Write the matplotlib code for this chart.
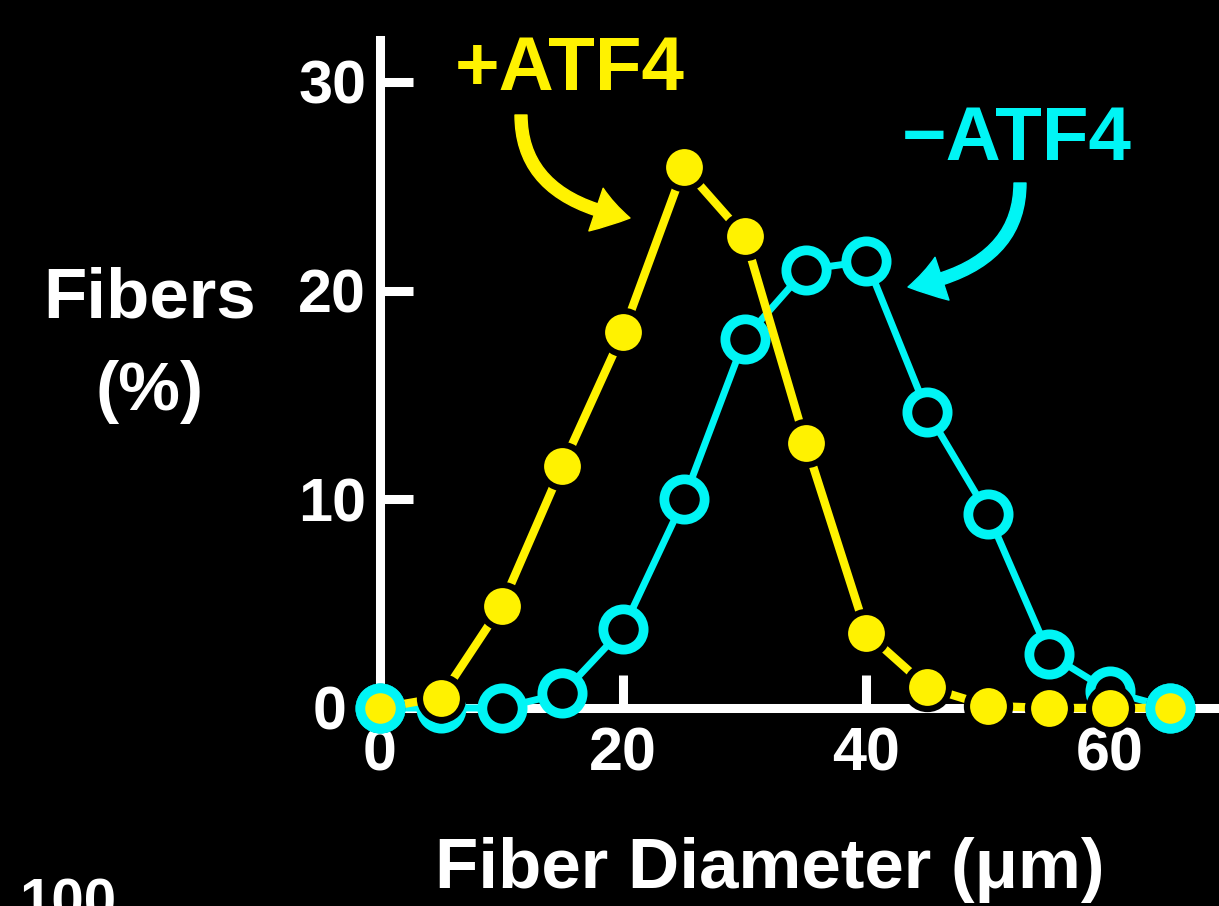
import numpy as np
import matplotlib.pyplot as plt
from matplotlib.transforms import ScaledTranslation

plt.rcParams['font.family'] = ['Liberation Sans', 'DejaVu Sans']
plt.rcParams['font.weight'] = 'bold'

diameter = [0, 5, 10, 15, 20, 25, 30, 35, 40, 45, 50, 55, 60, 65]
plus_atf4 = [0, 0.5, 4.9, 11.6, 18.0, 25.9, 22.6, 12.7, 3.6, 1.0, 0.1, 0, 0, 0]
minus_atf4 = [0, 0, 0, 0.7, 3.8, 10.0, 17.7, 21.0, 21.4, 14.2, 9.3, 2.6, 0.8, 0]

yellow = '#fff200'
cyan = '#00f5f5'

fig = plt.figure(figsize=(12.19, 9.06), dpi=100, facecolor='black')
ax = fig.add_axes([380 / 1219, 198 / 906, 839 / 1219, 668 / 906])
ax.set_facecolor('black')

# -ATF4 open circles below, +ATF4 filled circles on top
ax.plot(diameter, minus_atf4, color=cyan, lw=5, marker='o', ms=29,
        mfc='black', mec=cyan, mew=7, zorder=3, clip_on=False)
ax.plot(diameter, plus_atf4, color=yellow, lw=6, marker='o', ms=31,
        mfc=yellow, mec='black', mew=4.5, zorder=4, clip_on=False)
ends = [0, -1]
ax.plot(np.array(diameter)[ends], np.array(minus_atf4)[ends], ls='none',
        marker='o', ms=29, mfc='none', mec=cyan, mew=7, zorder=5, clip_on=False)

ax.set_xlim(0, 69)
ax.set_ylim(0, 32)
ax.set_xticks([0, 20, 40, 60])
ax.set_yticks([0, 10, 20, 30])
for s in ['top', 'right']:
    ax.spines[s].set_visible(False)
for s in ['left', 'bottom']:
    ax.spines[s].set_color('white')
    ax.spines[s].set_linewidth(6.5)
ax.tick_params(direction='in', length=24, width=6.5, color='white',
               labelcolor='white', labelsize=44, pad=10)
ax.tick_params(axis='x', pad=13)
for lab in ax.get_xticklabels() + ax.get_yticklabels():
    lab.set_fontweight('bold')
# y "0" label sits a bit further left, clear of the end marker
lab0 = ax.get_yticklabels()[0]
lab0.set_transform(lab0.get_transform() + ScaledTranslation(-20 / 100, 0, fig.dpi_scale_trans))

fig.text(150 / 1219, 588 / 906, 'Fibers', color='white', fontsize=51,
         fontweight='bold', ha='center', va='baseline')
fig.text(150 / 1219, 496 / 906, '(%)', color='white', fontsize=50,
         fontweight='bold', ha='center', va='baseline')
fig.text(770 / 1219, 18 / 906, 'Fiber Diameter (μm)', color='white',
         fontsize=51, fontweight='bold', ha='center', va='baseline')
fig.text(68 / 1219, -14 / 906, '100', color='white', fontsize=42,
         fontweight='bold', ha='center', va='baseline')

fig.text(570 / 1219, 816 / 906, '+ATF4', color=yellow, fontsize=55,
         fontweight='bold', ha='center', va='baseline')
fig.text(1017 / 1219, 746 / 906, '\u2212ATF4', color=cyan, fontsize=55,
         fontweight='bold', ha='center', va='baseline')

arrow = 'simple,head_length=1.05,head_width=1.35,tail_width=0.36'
ax.annotate('', xy=(630, 688), xycoords='figure pixels',
            xytext=(521, 791), textcoords='figure pixels',
            arrowprops=dict(arrowstyle=arrow, color=yellow, mutation_scale=24,
                            shrinkA=0, shrinkB=0,
                            connectionstyle='angle3,angleA=90,angleB=-10'))
ax.annotate('', xy=(908, 619), xycoords='figure pixels',
            xytext=(1020, 723), textcoords='figure pixels',
            arrowprops=dict(arrowstyle=arrow, color=cyan, mutation_scale=24,
                            shrinkA=0, shrinkB=0,
                            connectionstyle='angle3,angleA=90,angleB=10'))

fig.savefig('out.png', dpi=100, facecolor='black')
